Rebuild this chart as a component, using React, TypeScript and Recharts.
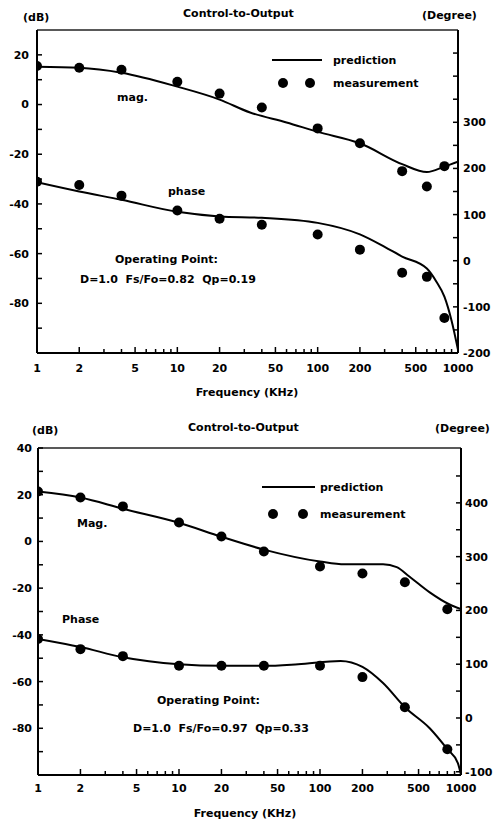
import React from 'react';
import { ComposedChart, Line, Scatter, XAxis, YAxis, ReferenceLine } from 'recharts';

const FONT = '"DejaVu Sans", sans-serif';

// x axis (KHz), log scale
const freqTicks = [1, 2, 3, 4, 5, 6, 7, 8, 9, 10, 20, 30, 40, 50, 60, 70, 80, 90, 100, 200, 300, 400, 500, 600, 700, 800, 900, 1000];
const freqLabels = [1, 2, 5, 10, 20, 50, 100, 200, 500, 1000];

// upper plot, Fs/Fo = 0.82
const measFreqA = [1, 2, 4, 10, 20, 40, 100, 200, 400, 600, 800];
const measMagA = [15.5, 14.8, 14, 9.2, 4.4, -1.2, -9.6, -15.6, -26.8, -33, -24.8];
const measPhaseA = [171, 164, 141, 109, 91, 78, 57, 24, -26, -35, -124];
const predMagFreqA = [1, 2, 4, 10, 20, 33, 60, 100, 200, 400, 600, 800, 1000];
const predMagA = [15.2, 14.8, 12.8, 7.2, 2, -3.2, -7.2, -11, -15.6, -24, -27.2, -25, -23];
const predPhaseFreqA = [1, 2, 4, 10, 20, 40, 100, 200, 300, 400, 600, 700, 800, 900, 1000];
const predPhaseA = [170, 150, 132, 106, 96, 93, 82, 57, 30, 9, -17, -45, -78, -130, -193];
const dbTicksA = [-90, -80, -70, -60, -50, -40, -30, -20, -10, 0, 10, 20];
const dbLabelsA = [-80, -60, -40, -20, 0, 20];
const degTicksA = [-200, -150, -100, -50, 0, 50, 100, 150, 200, 250, 300, 350, 400, 450];
const degLabelsA = [-200, -100, 0, 100, 200, 300];

// lower plot, Fs/Fo = 0.97
const measFreqB = [1, 2, 4, 10, 20, 40, 100, 200, 400, 800];
const measMagB = [21.4, 18.8, 15, 8.1, 2.1, -4.3, -10.7, -13.7, -17.5, -29];
const measPhaseB = [147, 128, 115, 97, 97, 97, 97, 76, 20, -58];
const predMagFreqB = [1, 2, 4, 10, 20, 40, 100, 150, 280, 350, 430, 600, 830, 1000];
const predMagB = [21.4, 18.8, 14, 8, 2, -3.5, -8.6, -9.8, -9.8, -11, -15, -21.8, -27, -29];
const predPhaseFreqB = [1, 2, 4, 10, 20, 40, 70, 140, 200, 280, 400, 600, 800, 950, 1000];
const predPhaseB = [147, 132, 113, 100, 97, 97, 100, 106, 95, 65, 20, -19, -58, -84, -106];
const dbTicksB = [-90, -80, -70, -60, -50, -40, -30, -20, -10, 0, 10, 20, 30, 40];
const dbLabelsB = [-80, -60, -40, -20, 0, 20, 40];
const degTicksB = [-100, -50, 0, 50, 100, 150, 200, 250, 300, 350, 400, 450];
const degLabelsB = [-100, 0, 100, 200, 300, 400];

const pts = (fs: number[], vs: number[]) => fs.map((f, i) => ({ f, v: vs[i] }));

const txt = { fontFamily: FONT, fontWeight: 700, fontSize: 11, fill: '#000' } as const;

// ticks point into the plot, labels sit outside
const yTick = (side: 'left' | 'right', labels: number[], gap: number) => (props: any) => {
  const { x, y, payload } = props;
  const dir = side === 'left' ? 1 : -1;
  const ax = x + dir * gap;
  return (
    <g>
      <line x1={ax} y1={y} x2={ax + dir * 5} y2={y} stroke="#000" strokeWidth={1.5} />
      {labels.includes(payload.value) && (
        <text x={x} y={y} dy="0.36em" textAnchor={side === 'left' ? 'end' : 'start'} {...txt}>
          {payload.value}
        </text>
      )}
    </g>
  );
};

const xTick = (gap: number) => (props: any) => {
  const { x, y, payload } = props;
  const major = freqLabels.includes(payload.value);
  const ay = y - gap;
  return (
    <g>
      <line x1={x} y1={ay} x2={x} y2={ay - (major ? 6 : 4)} stroke="#000" strokeWidth={1.5} />
      {major && (
        <text x={x} y={y} dy="0.36em" textAnchor="middle" {...txt}>
          {payload.value}
        </text>
      )}
    </g>
  );
};

const dot = (p: any) => <circle cx={p.cx} cy={p.cy} r={5} fill="#000" />;

type Note = { text: string; x: number; y: number; anchor?: 'start' | 'middle' };

type PanelProps = {
  height: number;
  margin: { top: number; right: number; bottom: number; left: number };
  leftWidth: number;
  rightWidth: number;
  dbDomain: [number, number];
  degDomain: [number, number];
  dbTicks: number[];
  dbLabels: number[];
  degTicks: number[];
  degLabels: number[];
  gaps: { left: number; right: number; bottom: number };
  measFreq: number[];
  measMag: number[];
  measPhase: number[];
  predMagFreq: number[];
  predMag: number[];
  predPhaseFreq: number[];
  predPhase: number[];
  notes: Note[];
  legend: { x1: number; x2: number; y: number; dots: number[]; dotY: number; textX: number };
};

const Panel: React.FC<PanelProps> = (p) => {
  return (
    <div style={{ position: 'relative', width: 501, height: p.height }}>
      <ComposedChart width={501} height={p.height} margin={p.margin}>
        <XAxis
          dataKey="f"
          type="number"
          scale="log"
          domain={[1, 1000]}
          allowDataOverflow
          ticks={freqTicks}
          interval={0}
          height={30}
          tickSize={0}
          tickMargin={p.gaps.bottom}
          tick={xTick(p.gaps.bottom)}
          axisLine={{ stroke: '#000', strokeWidth: 2 }}
        />
        <YAxis
          yAxisId="L"
          orientation="left"
          type="number"
          domain={p.dbDomain}
          allowDataOverflow
          ticks={p.dbTicks}
          interval={0}
          width={p.leftWidth}
          tickSize={0}
          tickMargin={p.gaps.left}
          tick={yTick('left', p.dbLabels, p.gaps.left)}
          axisLine={{ stroke: '#000', strokeWidth: 2 }}
        />
        <YAxis
          yAxisId="R"
          orientation="right"
          type="number"
          domain={p.degDomain}
          allowDataOverflow
          ticks={p.degTicks}
          interval={0}
          width={p.rightWidth}
          tickSize={0}
          tickMargin={p.gaps.right}
          tick={yTick('right', p.degLabels, p.gaps.right)}
          axisLine={{ stroke: '#000', strokeWidth: 2 }}
        />
        <ReferenceLine yAxisId="L" y={p.dbDomain[1]} stroke="#222" strokeWidth={1.5} />
        <Line yAxisId="L" data={pts(p.predMagFreq, p.predMag)} dataKey="v" type="monotone" stroke="#000" strokeWidth={2} dot={false} isAnimationActive={false} />
        <Line yAxisId="R" data={pts(p.predPhaseFreq, p.predPhase)} dataKey="v" type="monotone" stroke="#000" strokeWidth={2} dot={false} isAnimationActive={false} />
        <Scatter yAxisId="L" data={pts(p.measFreq, p.measMag)} dataKey="v" shape={dot} isAnimationActive={false} />
        <Scatter yAxisId="R" data={pts(p.measFreq, p.measPhase)} dataKey="v" shape={dot} isAnimationActive={false} />
      </ComposedChart>
      <svg width={501} height={p.height} style={{ position: 'absolute', left: 0, top: 0, pointerEvents: 'none' }}>
        {p.notes.map((n) => (
          <text key={n.text} x={n.x} y={n.y} textAnchor={n.anchor || 'start'} xmlSpace="preserve" style={{ whiteSpace: 'pre' }} {...txt}>
            {n.text}
          </text>
        ))}
        <line x1={p.legend.x1} y1={p.legend.y} x2={p.legend.x2} y2={p.legend.y} stroke="#000" strokeWidth={2} />
        {p.legend.dots.map((cx) => (
          <circle key={cx} cx={cx} cy={p.legend.dotY} r={5} fill="#000" />
        ))}
        <text x={p.legend.textX} y={p.legend.y + 4} {...txt}>prediction</text>
        <text x={p.legend.textX} y={p.legend.dotY + 4} {...txt}>measurement</text>
      </svg>
    </div>
  );
};

export default function App() {
  return (
    <div style={{ position: 'absolute', left: 0, top: 0, width: 501, height: 823, background: '#fff' }}>
      <Panel
        height={410}
        margin={{ top: 30, right: 0, bottom: 27, left: 0 }}
        leftWidth={37}
        rightWidth={43}
        dbDomain={[-100, 30]}
        degDomain={[-200, 500]}
        dbTicks={dbTicksA}
        dbLabels={dbLabelsA}
        degTicks={degTicksA}
        degLabels={degLabelsA}
        gaps={{ left: 8, right: 5, bottom: 15 }}
        measFreq={measFreqA}
        measMag={measMagA}
        measPhase={measPhaseA}
        predMagFreq={predMagFreqA}
        predMag={predMagA}
        predPhaseFreq={predPhaseFreqA}
        predPhase={predPhaseA}
        notes={[
          { text: '(dB)', x: 23, y: 21 },
          { text: 'Control-to-Output', x: 183, y: 17 },
          { text: '(Degree)', x: 422, y: 19 },
          { text: 'mag.', x: 117, y: 101 },
          { text: 'phase', x: 168, y: 195 },
          { text: 'Operating Point:', x: 115, y: 263 },
          { text: 'D=1.0  Fs/Fo=0.82  Qp=0.19', x: 80, y: 283 },
          { text: 'Frequency (KHz)', x: 247, y: 396, anchor: 'middle' },
        ]}
        legend={{ x1: 272, x2: 322, y: 60, dots: [283, 310], dotY: 83, textX: 333 }}
      />
      <Panel
        height={413}
        margin={{ top: 38, right: 0, bottom: 18, left: 0 }}
        leftWidth={38}
        rightWidth={40}
        dbDomain={[-100, 40]}
        degDomain={[-106, 502]}
        dbTicks={dbTicksB}
        dbLabels={dbLabelsB}
        degTicks={degTicksB}
        degLabels={degLabelsB}
        gaps={{ left: 6, right: 4, bottom: 13 }}
        measFreq={measFreqB}
        measMag={measMagB}
        measPhase={measPhaseB}
        predMagFreq={predMagFreqB}
        predMag={predMagB}
        predPhaseFreq={predPhaseFreqB}
        predPhase={predPhaseB}
        notes={[
          { text: '(dB)', x: 32, y: 24 },
          { text: 'Control-to-Output', x: 188, y: 21 },
          { text: '(Degree)', x: 435, y: 22 },
          { text: 'Mag.', x: 77, y: 117 },
          { text: 'Phase', x: 62, y: 213 },
          { text: 'Operating Point:', x: 157, y: 294 },
          { text: 'D=1.0  Fs/Fo=0.97  Qp=0.33', x: 133, y: 322 },
          { text: 'Frequency (KHz)', x: 245, y: 407, anchor: 'middle' },
        ]}
        legend={{ x1: 262, x2: 315, y: 77, dots: [273, 303], dotY: 104, textX: 320 }}
      />
    </div>
  );
}
